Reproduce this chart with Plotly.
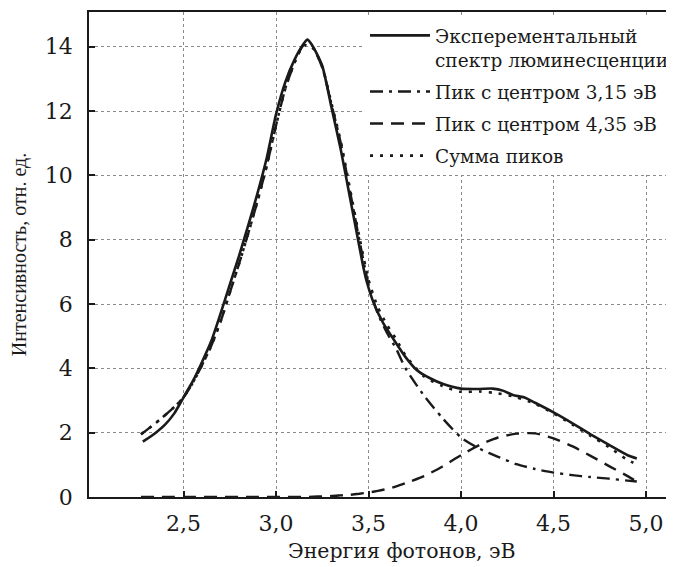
import plotly.graph_objects as go

# ── data ─────────────────────────────────────────────────────────────────────
exp_x = [2.28, 2.35, 2.40, 2.45, 2.50, 2.55, 2.60, 2.65, 2.70, 2.75, 2.80,
         2.85, 2.90, 2.95, 3.00, 3.05, 3.10, 3.15, 3.17, 3.20, 3.25, 3.30,
         3.35, 3.40, 3.45, 3.47, 3.49, 3.53, 3.58, 3.63, 3.70, 3.76, 3.83,
         3.90, 4.00, 4.10, 4.17, 4.23, 4.28, 4.34, 4.40, 4.50, 4.60, 4.70,
         4.80, 4.90, 4.95]
exp_y = [1.72, 2.00, 2.25, 2.60, 3.10, 3.60, 4.20, 4.85, 5.70, 6.60, 7.50,
         8.45, 9.45, 10.55, 11.90, 12.90, 13.60, 14.10, 14.22, 14.00, 13.40, 12.10,
         10.80, 9.30, 7.80, 7.20, 6.70, 6.00, 5.40, 4.95, 4.35, 3.95, 3.70,
         3.52, 3.37, 3.36, 3.37, 3.30, 3.17, 3.10, 2.93, 2.63, 2.30, 1.95,
         1.62, 1.30, 1.20]

fit_x = [2.27, 2.35, 2.45, 2.50, 2.55, 2.60, 2.65, 2.70, 2.75, 2.80, 2.85,
         2.90, 2.95, 3.00, 3.05, 3.10, 3.15, 3.20, 3.25, 3.30, 3.35, 3.40,
         3.45, 3.50, 3.55, 3.60, 3.65, 3.70, 3.80, 3.90, 4.00, 4.10, 4.20,
         4.30, 4.40, 4.50, 4.60, 4.70, 4.80, 4.90, 4.95]
peak1_y = [1.95, 2.30, 2.80, 3.10, 3.55, 4.10, 4.70, 5.45, 6.35, 7.25, 8.20,
           9.20, 10.30, 11.55, 12.70, 13.50, 14.05, 13.95, 13.35, 12.20, 11.00, 9.50,
           8.00, 6.60, 5.70, 5.10, 4.60, 4.00, 3.15, 2.45, 1.85, 1.50, 1.25,
           1.02, 0.87, 0.76, 0.68, 0.62, 0.57, 0.51, 0.48]
peak2_y = [0.00, 0.00, 0.00, 0.00, 0.00, 0.00, 0.00, 0.00, 0.00, 0.00, 0.00,
           0.00, 0.00, 0.00, 0.00, 0.00, 0.00, 0.01, 0.02, 0.03, 0.05, 0.07,
           0.10, 0.14, 0.19, 0.25, 0.33, 0.43, 0.65, 0.95, 1.30, 1.62, 1.85,
           1.97, 1.98, 1.82, 1.58, 1.28, 0.96, 0.65, 0.48]
sum_y = [1.95, 2.30, 2.80, 3.10, 3.55, 4.10, 4.70, 5.45, 6.35, 7.25, 8.20,
         9.20, 10.30, 11.55, 12.70, 13.50, 14.05, 13.96, 13.37, 12.23, 11.05, 9.57,
         8.10, 6.75, 5.90, 5.35, 4.90, 4.40, 3.75, 3.45, 3.27, 3.28, 3.22,
         3.10, 2.90, 2.60, 2.26, 1.90, 1.55, 1.15, 1.02]

names = ["Эксперементальный<br>спектр люминесценции",
         "Пик с центром 3,15 эВ",
         "Пик с центром 4,35 эВ",
         "Сумма пиков"]

x_ticks = [2.5, 3.0, 3.5, 4.0, 4.5, 5.0]
y_ticks = [0, 2, 4, 6, 8, 10, 12, 14]

x_title = "Энергия фотонов, эВ"
y_title = "Интенсивность, отн. ед."

# ── styling ──────────────────────────────────────────────────────────────────
_INK = "#1a1a1a"
_WIDE = "DejaVu Serif, DejaVu Sans, serif"
_NARROW = "Liberation Serif, Liberation Sans, serif"
_GRID = "#8a8a8a"

# the page body keeps its default 8px margin, so the figure is 8px smaller
W, H = 666, 559


def _line(x, y, name, group, width, dash=None):
    return go.Scatter(
        x=x, y=y, name=name, legendgroup=group, mode="lines",
        line=dict(color=_INK, width=width, shape="spline", smoothing=0.6,
                  dash=dash),
    )


fig = go.Figure([
    _line(exp_x, exp_y, names[0], "g0", 2.6),
    _line(fit_x, peak1_y, names[1], "g1", 2.4, "13px,6px,3px,6px"),
    _line(fit_x, peak2_y, names[2], "g2", 2.4, "13px,8px"),
    _line(fit_x, sum_y, names[3], "g3", 2.6, "3px,7px"),
])

axis_common = dict(
    showline=True, linecolor=_INK, linewidth=1.8,
    ticks="inside", ticklen=6, tickwidth=1.5, tickcolor=_INK,
    showgrid=True, gridcolor=_GRID, gridwidth=1, griddash="dot",
    zeroline=False,
    tickfont=dict(family=_WIDE, size=22, color=_INK),
)

fig.update_layout(
    width=W, height=H,
    paper_bgcolor="white", plot_bgcolor="white",
    margin=dict(l=81, r=0, t=4, b=70),
    separators=", ",
    font=dict(family=_WIDE, size=18.5, color=_INK),
    xaxis=dict(**axis_common, range=[1.989, 5.151], mirror=True,
               tickvals=x_ticks, tickformat=".1f", ticklabelstandoff=6),
    yaxis=dict(**axis_common, range=[0, 15.08],
               tickvals=y_ticks, ticklabelstandoff=10,
               title=dict(text=y_title, standoff=14,
                          font=dict(family=_NARROW, size=20, color=_INK))),
    legend=dict(x=1.0, y=0.99, xanchor="right", yanchor="top",
                bgcolor="white", borderwidth=0, itemwidth=60,
                valign="top", tracegroupgap=5, traceorder="grouped",
                font=dict(family=_WIDE, size=18.5, color=_INK)),
    showlegend=True,
)

# x title sits a little right of the axis centre in the original
fig.add_annotation(text=x_title, xref="paper", yref="paper",
                   x=0.535, y=-0.111, xanchor="center", yanchor="middle",
                   showarrow=False,
                   font=dict(family=_WIDE, size=20.5, color=_INK))

fig.write_html("out.html")
